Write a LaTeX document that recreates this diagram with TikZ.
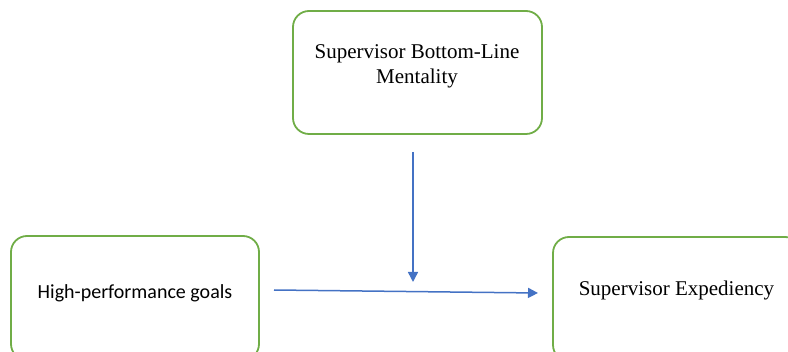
\documentclass[tikz,border=0pt]{standalone}
\usepackage{fontspec}
\setmainfont{Liberation Serif}
\newfontfamily\calib{Carlito}
\usetikzlibrary{arrows.meta}
\definecolor{boxgreen}{HTML}{70AD47}
\definecolor{arrowblue}{HTML}{4472C4}
\tikzset{
  varbox/.style={draw=boxgreen, line width=1.8pt, rounded corners=16pt, inner sep=0pt},
  boxtext/.style={inner sep=0pt, align=center, font=\fontsize{21}{25}\selectfont},
  link/.style={draw=arrowblue, line width=1.5pt, -{Triangle[length=10pt,width=10pt]}}
}
\begin{document}
\begin{tikzpicture}[x=1pt,y=-1pt]
\useasboundingbox (0,0) rectangle (788,352);
\clip (0,0) rectangle (788,352);
% boxes
\node[varbox, minimum width=249pt, minimum height=123pt] (top) at (417.5,72.5) {};
\node[varbox, minimum width=248pt, minimum height=124pt] (left) at (135,298) {};
\node[varbox, minimum width=248pt, minimum height=124pt] (right) at (677,299) {};
% texts
\node[boxtext] (toptext) at (417,66.5) {Supervisor Bottom-Line\\Mentality};
\node[boxtext, font=\calib\fontsize{20}{24}\selectfont] (lefttext) at (135,293) {High-performance goals};
\node[boxtext] (righttext) at (676.5,290.5) {Supervisor Expediency};
% connectors
\coordinate (vstart) at (413,152);
\coordinate (vend) at (413,282);
\coordinate (hstart) at (274,290);
\coordinate (hend) at (538,293);
\draw[link] (vstart) -- (vend);
\draw[link] (hstart) -- (hend);
\end{tikzpicture}
\end{document}
